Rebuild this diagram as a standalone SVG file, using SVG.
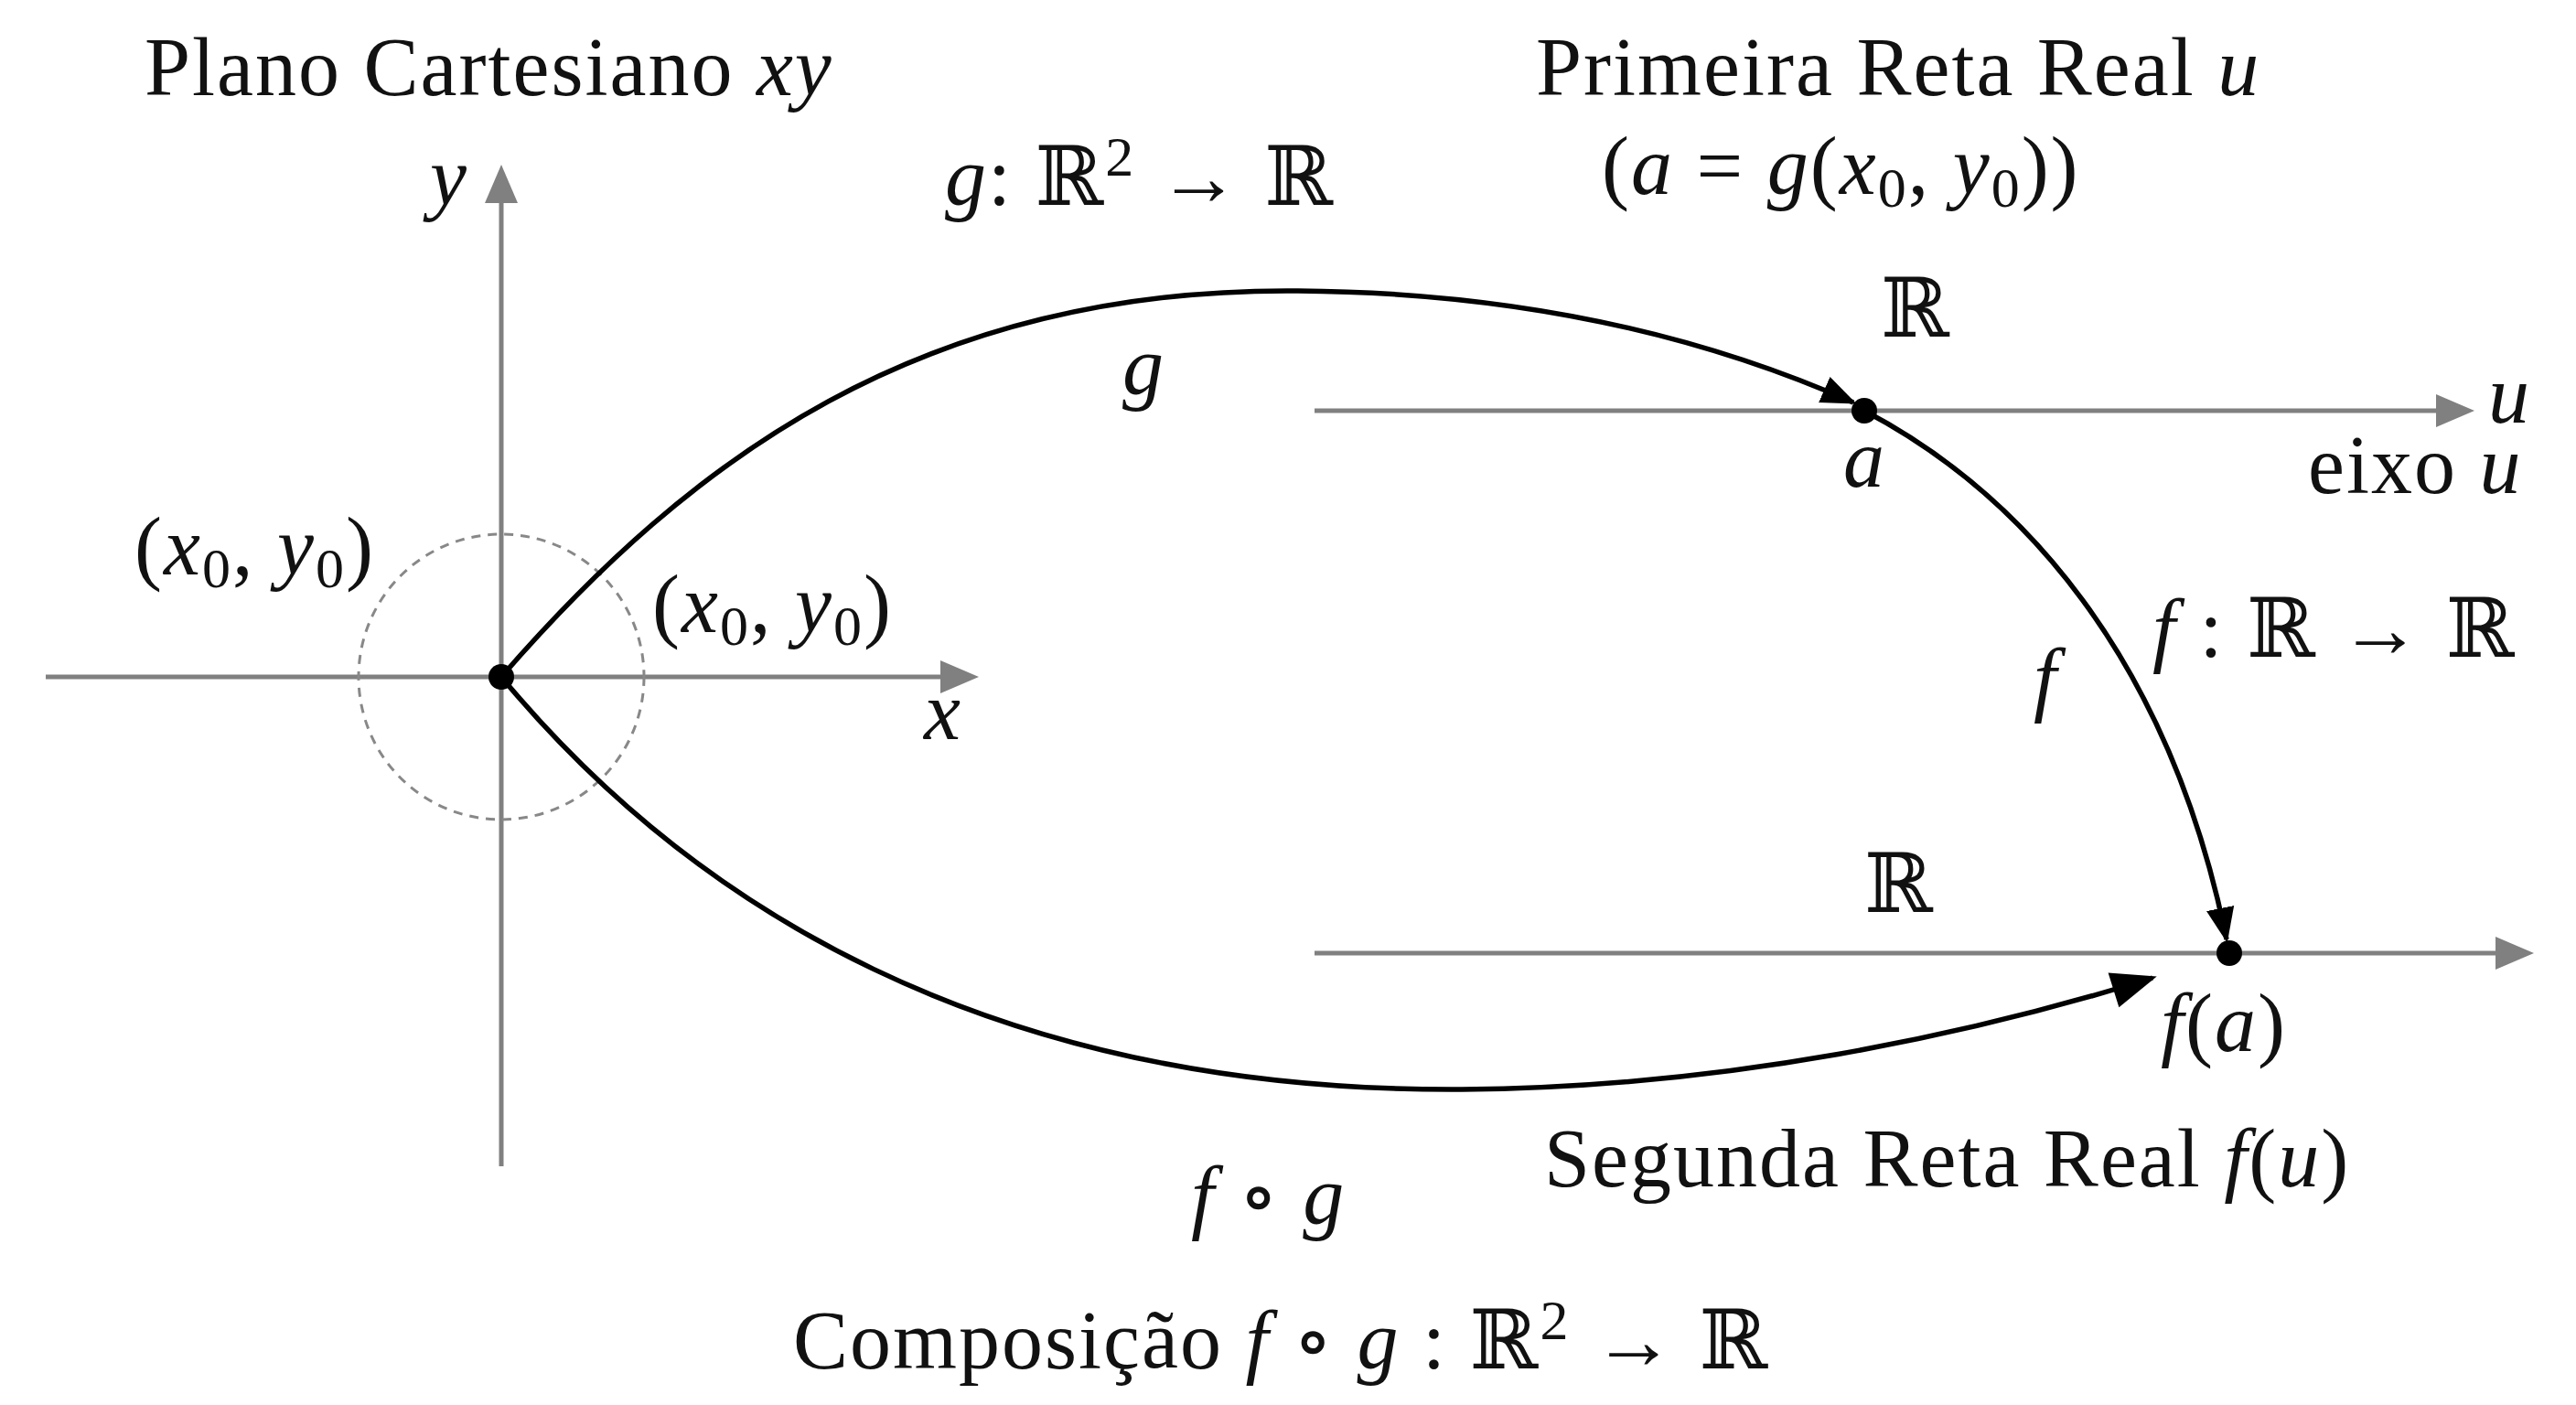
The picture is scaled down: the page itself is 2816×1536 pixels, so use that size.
<svg xmlns="http://www.w3.org/2000/svg" width="2816" height="1536" viewBox="0 0 2816 1536">
<style>
text{font-family:"Liberation Serif","DejaVu Serif",serif;font-size:90px;fill:#111;letter-spacing:2px}
.i{font-style:italic}
.ax{stroke:#808080;stroke-width:5;fill:none}
.c{stroke:#000;stroke-width:5.5;fill:none}
.s{font-size:62px}
</style>
<defs>
<marker id="ba" viewBox="0 0 10 10" refX="9" refY="5" markerWidth="7" markerHeight="7" orient="auto"><path d="M0 1L10 5L0 9z" fill="#000"/></marker>
<marker id="bb" viewBox="0 0 10 10" refX="9" refY="5" markerWidth="10" markerHeight="9" orient="auto"><path d="M0 1L10 5L0 9z" fill="#000"/></marker>
</defs>
<g id="axes">
<line class="ax" x1="548" y1="1275" x2="548" y2="215"/>
<path d="M548 180 L530 222 L566 222z" fill="#808080"/>
<line class="ax" x1="50" y1="740" x2="1030" y2="740"/>
<path d="M1070 740 L1028 722 L1028 758z" fill="#808080"/>
<circle cx="548" cy="740" r="156" fill="none" stroke="#888" stroke-width="3" stroke-dasharray="10 8"/>
</g>
<g id="lines">
<line class="ax" x1="1437" y1="449" x2="2665" y2="449"/>
<path d="M2705 449 L2663 431 L2663 467z" fill="#808080"/>
<line class="ax" x1="1437" y1="1042" x2="2730" y2="1042"/>
<path d="M2770 1042 L2728 1024 L2728 1060z" fill="#808080"/>
</g>
<g id="connectors">
<path class="c" d="M548 740 C754 503 1006 314 1419 318 C1706 320 1904 386 2026 440" marker-end="url(#ba)"/>
<path class="c" d="M2038 449 C2209 539 2371 718 2434 1027" marker-end="url(#ba)"/>
<path class="c" d="M548 740 C754 988 1078 1194 1598 1191 C1886 1189 2155 1131 2353 1069" marker-end="url(#bb)"/>
</g>
<g id="points">
<circle cx="548" cy="740" r="14" fill="#000"/>
<circle cx="2038" cy="449" r="14" fill="#000"/>
<circle cx="2437" cy="1042" r="14" fill="#000"/>
</g>
<g id="labels">
<text x="158" y="104">Plano Cartesiano <tspan class="i">xy</tspan></text>
<text x="470" y="224" class="i">y</text>
<text x="1010" y="808" class="i">x</text>
<text x="147" y="628">(<tspan class="i">x</tspan><tspan class="s" dy="14">0</tspan><tspan dy="-14">, </tspan><tspan class="i">y</tspan><tspan class="s" dy="14">0</tspan><tspan dy="-14">)</tspan></text>
<text x="713" y="691">(<tspan class="i">x</tspan><tspan class="s" dy="14">0</tspan><tspan dy="-14">, </tspan><tspan class="i">y</tspan><tspan class="s" dy="14">0</tspan><tspan dy="-14">)</tspan></text>
<text x="1033" y="224"><tspan class="i">g</tspan>: ℝ<tspan class="s" dy="-32">2</tspan><tspan dy="32"> → ℝ</tspan></text>
<text x="1227" y="431" class="i">g</text>
<text x="1679" y="104">Primeira Reta Real <tspan class="i">u</tspan></text>
<text x="1751" y="212">(<tspan class="i">a</tspan> = <tspan class="i">g</tspan>(<tspan class="i">x</tspan><tspan class="s" dy="14">0</tspan><tspan dy="-14">, </tspan><tspan class="i">y</tspan><tspan class="s" dy="14">0</tspan><tspan dy="-14">))</tspan></text>
<text x="2056" y="368">ℝ</text>
<text x="2720" y="462" class="i">u</text>
<text x="2015" y="532" class="i">a</text>
<text x="2523" y="539">eixo <tspan class="i">u</tspan></text>
<text x="2223" y="772" class="i">f</text>
<text x="2353" y="718"><tspan class="i">f</tspan> : ℝ → ℝ</text>
<text x="2038" y="997">ℝ</text>
<text x="2362" y="1149"><tspan class="i">f</tspan>(<tspan class="i">a</tspan>)</text>
<text x="1688" y="1297">Segunda Reta Real <tspan class="i">f</tspan>(<tspan class="i">u</tspan>)</text>
<text x="1302" y="1338"><tspan class="i">f</tspan> ∘ <tspan class="i">g</tspan></text>
<text x="867" y="1496">Composição <tspan class="i">f</tspan> ∘ <tspan class="i">g</tspan> : ℝ<tspan class="s" dy="-32">2</tspan><tspan dy="32"> → ℝ</tspan></text>
</g>
</svg>
